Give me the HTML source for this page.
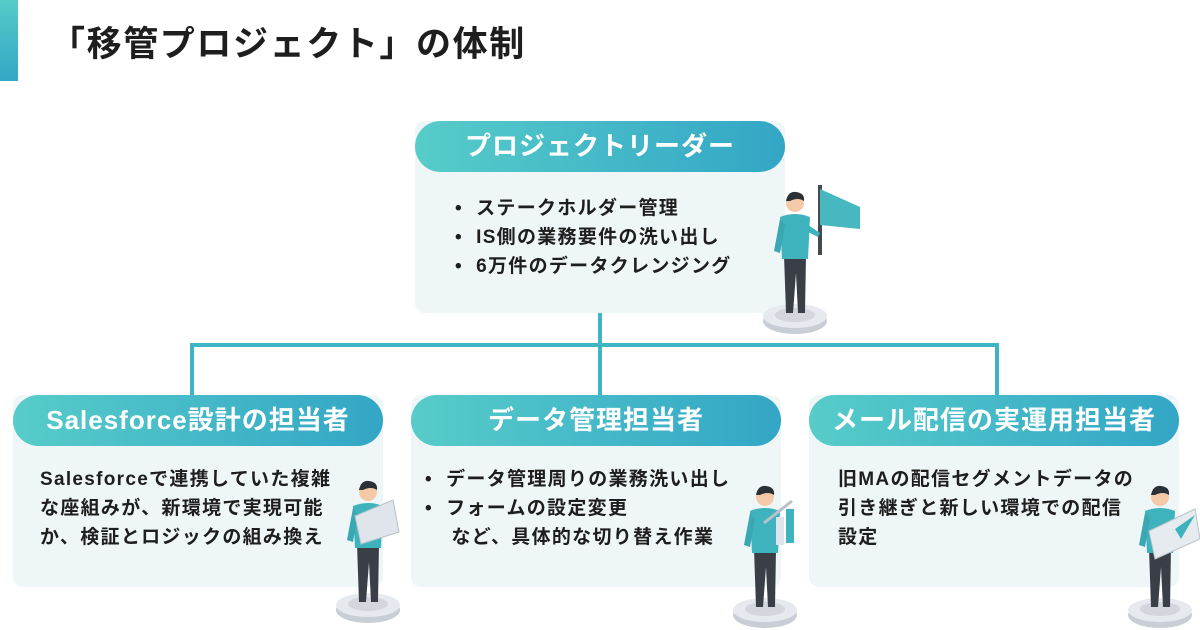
<!DOCTYPE html>
<html><head><meta charset="utf-8">
<style>
*{margin:0;padding:0;box-sizing:border-box}
body{width:1200px;height:630px;background:#fff;position:relative;overflow:hidden;font-family:"Liberation Sans","Noto Sans CJK JP",sans-serif;color:#1e1e1e}
.bar{position:absolute;left:0;top:0;width:18px;height:81px;background:linear-gradient(#55ccc8,#33a6c6)}
.title{position:absolute;left:50px;top:21px;font-size:35px;font-weight:bold;letter-spacing:1.6px;line-height:48px}
.box{position:absolute;width:370px;height:192px;background:#eff6f8;border-radius:10px}
.hd{height:51px;border-radius:26px;background:linear-gradient(90deg,#57ccc9,#33a6c6);color:#fff;font-weight:bold;font-size:26px;text-align:center;line-height:51px;letter-spacing:1px;white-space:nowrap}
.txt{position:absolute;font-size:19px;font-weight:bold;line-height:29px;letter-spacing:1.3px;white-space:nowrap}
.line{position:absolute;background:#3fb4c2}
svg.p{position:absolute}
</style></head><body>
<div class="bar"></div>
<div class="title">「移管プロジェクト」の体制</div>

<div class="line" style="left:598px;top:312px;width:4px;height:84px"></div>
<div class="line" style="left:190px;top:343px;width:809px;height:4px"></div>
<div class="line" style="left:190px;top:343px;width:4px;height:53px"></div>
<div class="line" style="left:995px;top:343px;width:4px;height:53px"></div>

<div class="box" style="left:415px;top:121px">
<div class="hd">プロジェクトリーダー</div>
<div class="txt" style="left:40px;top:73px">•&nbsp;&nbsp;ステークホルダー管理<br>•&nbsp;&nbsp;IS側の業務要件の洗い出し<br>•&nbsp;&nbsp;6万件のデータクレンジング</div>
</div>

<div class="box" style="left:13px;top:395px">
<div class="hd">Salesforce設計の担当者</div>
<div class="txt" style="left:27px;top:70px">Salesforceで連携していた複雑<br>な座組みが、新環境で実現可能<br>か、検証とロジックの組み換え</div>
</div>

<div class="box" style="left:411px;top:395px">
<div class="hd">データ管理担当者</div>
<div class="txt" style="left:14px;top:70px">•&nbsp;&nbsp;データ管理周りの業務洗い出し<br>•&nbsp;&nbsp;フォームの設定変更<br>&nbsp;&nbsp;&nbsp;&nbsp;など、具体的な切り替え作業</div>
</div>

<div class="box" style="left:809px;top:395px">
<div class="hd">メール配信の実運用担当者</div>
<div class="txt" style="left:29px;top:70px">旧MAの配信セグメントデータの<br>引き継ぎと新しい環境での配信<br>設定</div>
</div>

<svg width="0" height="0" style="position:absolute">
<defs>
<g id="per">
<ellipse cx="35" cy="136" rx="32" ry="13" fill="#c9ced6"/>
<ellipse cx="35" cy="131" rx="32" ry="12" fill="#e6e9ee"/>
<ellipse cx="35" cy="130" rx="20" ry="7" fill="#d3d7dd"/>
<path d="M24 70 L46 70 L45 128 L38 128 L36 88 L33 128 L26 128 Z" fill="#3a3f47"/>
<path d="M20 32 Q35 26 50 32 L48 74 L22 74 Z" fill="#3fb3bd"/>
<path d="M20 34 L14 66 L20 68 L25 40 Z" fill="#3aa8b2"/>
<circle cx="35" cy="18" r="9" fill="#f4c9a8"/>
<path d="M26 16 Q28 6 36 7 Q45 8 44 16 Q38 12 30 16 Z" fill="#2b2f36"/>
</g>
</defs>
</svg>

<svg class="p" style="left:760px;top:185px" width="80" height="150" viewBox="0 0 80 150">
<rect x="58" y="0" width="4" height="70" fill="#444a52"/>
<use href="#per"/>
<path d="M48 40 L60 48 L58 52 L46 46 Z" fill="#3fb3bd"/>
</svg>
<svg class="p" style="left:818px;top:185px" width="45" height="60" viewBox="0 0 45 60"><path d="M2 4 L42 22 L42 44 L2 40 Z" fill="#47b8bf"/></svg>

<svg class="p" style="left:333px;top:474px" width="80" height="150" viewBox="0 0 80 150">
<use href="#per"/>
<path d="M22 42 L60 26 L66 58 L28 70 Z" fill="#dfe5ea" stroke="#b9c2ca"/>
</svg>

<svg class="p" style="left:730px;top:478px" width="80" height="152" viewBox="0 0 80 150">
<use href="#per"/>
<rect x="36" y="45" width="8" height="22" fill="#3fb3bd"/>
<rect x="46" y="38" width="8" height="28" fill="#dfe5ea"/>
<rect x="56" y="30" width="8" height="34" fill="#3fb3bd"/>
<path d="M34 44 L62 22" stroke="#b9c2ca" stroke-width="3"/>
</svg>

<svg class="p" style="left:1125px;top:478px" width="75" height="152" viewBox="0 0 75 150">
<use href="#per"/>
<path d="M24 52 L70 30 L75 60 L30 80 Z" fill="#e6ebef" stroke="#b9c2ca"/>
<path d="M50 50 L70 36 L56 60 Z" fill="#3fb3bd"/>
</svg>
</body></html>
